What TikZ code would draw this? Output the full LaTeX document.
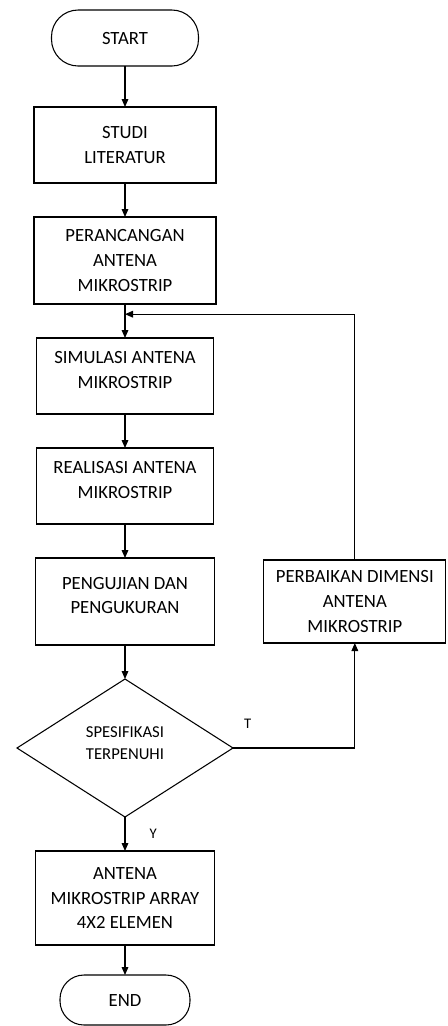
\documentclass[tikz,border=0pt]{standalone}
\usepackage{fontspec}
\setmainfont{Carlito}
\usetikzlibrary{shapes.geometric,arrows.meta,positioning,calc}

\newcommand{\mainsize}{\fontsize{14}{18.5}\selectfont}

\begin{document}
\begin{tikzpicture}[
    node distance=25.5pt,
    term/.style={rectangle, rounded corners=20pt, draw, line width=0.8pt, outer sep=0pt, minimum width=110.25pt, minimum height=42pt, font=\mainsize},
    box/.style={rectangle, draw, line width=0.8pt, outer sep=0pt, minimum width=136.5pt, minimum height=57pt, align=center, inner sep=2pt, font=\mainsize},
    raised/.style={text depth=9pt},
    decision/.style={diamond, draw, line width=0.8pt, outer sep=0pt, aspect=1.56, inner sep=0pt, minimum width=162pt, minimum height=103.5pt, align=center, text depth=7.5pt, font=\fontsize{12.5}{16.5}\selectfont},
    tag/.style={inner sep=0pt, font=\fontsize{11}{13}\selectfont},
    arrow/.style={->, >={Triangle[length=6pt,width=5pt]}, line width=0.8pt}
]
    \useasboundingbox (0,0) rectangle (335.25pt,-769.5pt);

    \node[term] (start) at (93.75pt,-28.5pt) {START};
    \node[box, below=30.75pt of start] (studi) {STUDI\\LITERATUR};
    \node[box, below=of studi, minimum height=65.25pt] (peran) {PERANCANGAN\\ANTENA\\MIKROSTRIP};
    \node[box, raised, below=of peran, minimum width=132.75pt] (sim) {SIMULASI ANTENA\\MIKROSTRIP};
    \node[box, raised, below=of sim, minimum width=132.75pt] (real) {REALISASI ANTENA\\MIKROSTRIP};
    \node[box, raised, below=of real, minimum width=134.25pt, minimum height=65.25pt] (peng) {PENGUJIAN DAN\\PENGUKURAN};
    \node[decision, below=of peng] (dec) {SPESIFIKASI\\TERPENUHI};
    \node[box, below=of dec, minimum width=134.25pt, minimum height=70.5pt] (antena) {ANTENA\\MIKROSTRIP ARRAY\\4X2 ELEMEN};
    \node[term, below=22.5pt of antena, minimum width=97.5pt, minimum height=37.5pt, rounded corners=18pt] (end) {END};

    \node[box, right=37pt of peng, minimum height=62.25pt] (perbaikan) {PERBAIKAN DIMENSI\\ANTENA\\MIKROSTRIP};

    \coordinate (join) at ($(peran.south)!0.3!(sim.north)$);

    \draw[arrow] (start) -- (studi);
    \draw[arrow] (studi) -- (peran);
    \draw[arrow] (peran) -- (sim);
    \draw[arrow] (sim) -- (real);
    \draw[arrow] (real) -- (peng);
    \draw[arrow] (peng) -- (dec);
    \draw[arrow] (dec) -- node[tag, right=18pt] {Y} (antena);
    \draw[arrow] (antena) -- (end);

    \draw[arrow] (dec.east) -| (perbaikan.south) node[tag, pos=0.06, above=14.5pt] {T};
    \draw[arrow] (perbaikan.north) |- (join);
\end{tikzpicture}
\end{document}
